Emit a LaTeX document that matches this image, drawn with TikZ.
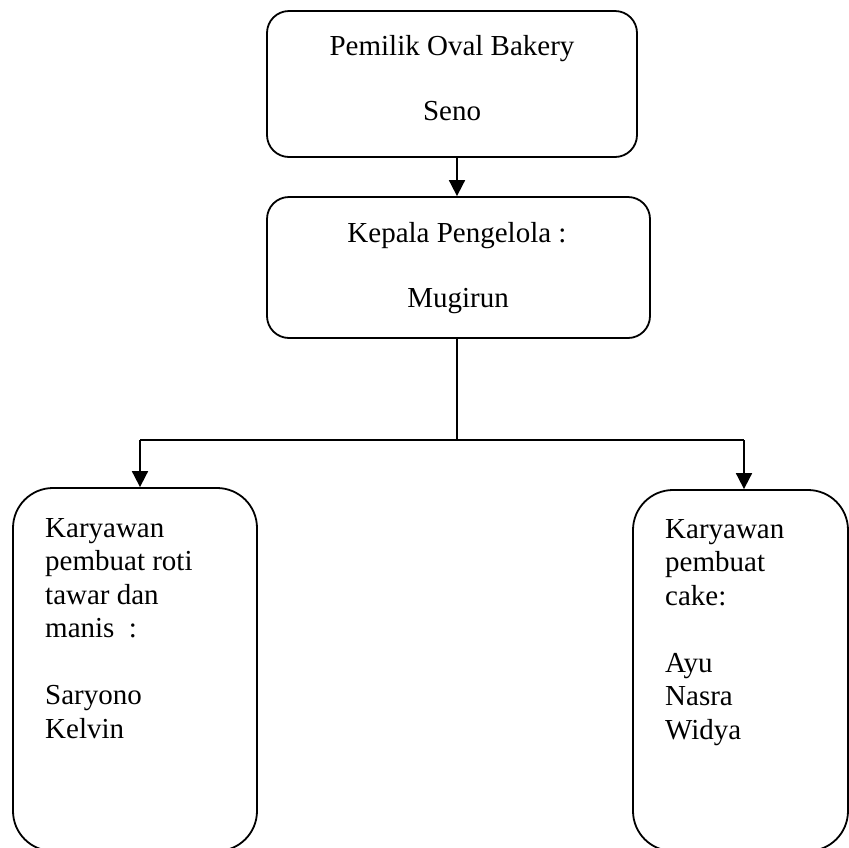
\documentclass[tikz,border=0pt]{standalone}
\usepackage{fontspec}
\setmainfont{Liberation Serif}
\usetikzlibrary{arrows.meta}
\begin{document}
\begin{tikzpicture}[x=1pt,y=-1pt,
  box/.style={draw=black, line width=1.8pt, rectangle, inner sep=0pt},
  topbox/.style={box, rounded corners=22pt},
  tallbox/.style={box, rounded corners=40pt},
  txt/.style={inner sep=0pt, font=\fontsize{29}{33.5}\selectfont},
  conn/.style={line width=1.8pt},
  arr/.style={conn, -{Triangle[width=16pt,length=16pt]}}]
\useasboundingbox (0,0) rectangle (849,847);
\begin{scope}
\clip (0,0) rectangle (849,847);
% boxes
\node[topbox, minimum width=370pt, minimum height=146pt] (owner) at (452,84) {};
\node[topbox, minimum width=383pt, minimum height=141pt] (head) at (458.5,267.5) {};
\node[tallbox, minimum width=244pt, minimum height=363pt] (left) at (135,669.5) {};
\node[tallbox, minimum width=215pt, minimum height=361pt] (right) at (740.5,670.5) {};
% texts
\node[txt, anchor=base] (t1) at (452,55) {Pemilik Oval Bakery};
\node[txt, anchor=base] (t2) at (452,120) {Seno};
\node[txt, anchor=base] (t3) at (457,242) {Kepala Pengelola :};
\node[txt, anchor=base] (t4) at (458,307) {Mugirun};
\node[txt, anchor=base west] (l1) at (45,537) {Karyawan};
\node[txt, anchor=base west] (l2) at (45,570.5) {pembuat roti};
\node[txt, anchor=base west] (l3) at (45,604) {tawar dan};
\node[txt, anchor=base west] (l4) at (45,637.5) {manis\ \ :};
\node[txt, anchor=base west] (l5) at (45,704.5) {Saryono};
\node[txt, anchor=base west] (l6) at (45,738) {Kelvin};
\node[txt, anchor=base west] (r1) at (665,538) {Karyawan};
\node[txt, anchor=base west] (r2) at (665,571.5) {pembuat};
\node[txt, anchor=base west] (r3) at (665,605) {cake:};
\node[txt, anchor=base west] (r4) at (665,672) {Ayu};
\node[txt, anchor=base west] (r5) at (665,705.5) {Nasra};
\node[txt, anchor=base west] (r6) at (665,739) {Widya};
% connectors
\coordinate (a1) at (457,157);
\coordinate (hub) at (457,440);
\coordinate (jl) at (140,440);
\coordinate (jr) at (744,440);
\draw[arr] (a1) -- (a1 |- head.north);
\draw[conn] (a1 |- head.south) -- (hub);
\draw[conn] (jl) -- (jr);
\draw[arr] (jl) -- (jl |- left.north);
\draw[arr] (jr) -- (jr |- right.north);
\end{scope}
\end{tikzpicture}
\end{document}
